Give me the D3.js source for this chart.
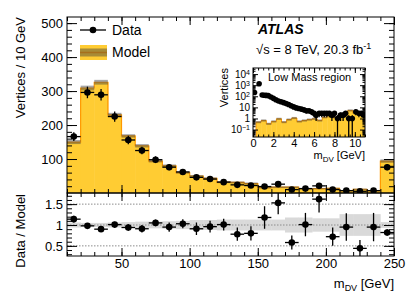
<!DOCTYPE html>
<html lang="en">
<head>
<meta charset="utf-8">
<title>Vertices vs m_DV</title>
<script src="https://cdn.jsdelivr.net/npm/d3@7"></script>
<style>
    body { margin: 0; background: #fff; }
    svg { font-family: "Liberation Sans", Arial, sans-serif; }
    .frame { fill: none; stroke: #000; stroke-width: 1; }
    .axis path { display: none; }
    .axis line { stroke: #000; stroke-width: 1; }
    .axis text { font-size: 13px; fill: #000; font-family: "Liberation Sans", Arial, sans-serif; }
    .inset .axis text { font-size: 11px; }
    .inset .logaxis text { font-size: 10px; }
    .err { stroke: #000; stroke-width: 1.3; }
</style>
</head>
<body>
<svg id="chart" width="415" height="298"></svg>
<script>
    // 10 GeV bins (lower edges)
    var binLow = [10, 20, 30, 40, 50, 60, 70, 80, 90, 100, 110, 120,
                  130, 140, 150, 160, 170, 180, 190, 200, 210, 220, 230, 240];
    var dataCounts = [166, 296, 289, 225, 156, 125, 98, 76, 62, 46, 41, 32,
                      24, 22, 19, 26, 10, 13, 21, 10, 7, 5, 7, 76];
    var dataErr = [13, 17, 17, 15, 12.5, 11, 10, 9, 8, 7, 6.4, 5.7,
                   4.9, 4.7, 4.4, 5.1, 3.2, 3.6, 4.6, 3.2, 2.6, 2.2, 2.6, 8.7];
    var modelCounts = [150, 309, 326, 230, 168, 139, 94, 80, 60, 50, 43, 32,
                       31, 28, 16, 17, 17, 12.5, 13, 13.5, 7, 11, 7, 94];
    var modelErr = [6, 7, 7, 6, 5, 5, 4, 4, 3, 3, 3, 3,
                    3, 3, 2.5, 2.5, 2.5, 2, 2, 2, 2, 2, 2, 5];
    var ratioVals = [1.14, 0.98, 0.90, 1.01, 0.94, 0.91, 1.05, 0.95, 1.03, 0.91, 0.96, 1.01,
                     0.78, 0.80, 1.18, 1.53, 0.58, 1.01, 1.62, 0.72, 0.95, 0.44, 0.95, 0.82];
    var ratioErr = [0.08, 0.06, 0.06, 0.07, 0.08, 0.09, 0.08, 0.11, 0.11, 0.15, 0.14, 0.14,
                    0.16, 0.17, 0.27, 0.27, 0.17, 0.28, 0.32, 0.22, 0.33, 0.2, 0.34, 0.08];
    var ratioBand = [0.06, 0.05, 0.05, 0.06, 0.07, 0.08, 0.08, 0.09, 0.1, 0.12, 0.12, 0.13,
                     0.13, 0.13, 0.13, 0.13, 0.18, 0.18, 0.16, 0.16, 0.26, 0.26, 0.26, 0.07];

    // low mass inset
    var insetMass = [0.15, 0.6, 0.9, 1.1, 1.3, 1.5, 1.75, 2.0, 2.25, 2.5, 2.75, 3.0, 3.25, 3.5,
                     3.75, 4.0, 4.25, 4.5, 4.75, 5.0, 5.25, 5.5, 5.75, 6.0, 6.2, 6.5, 6.75, 7.0,
                     7.25, 7.5, 7.75, 8.0, 8.3, 8.6, 8.85, 9.1, 9.4, 9.75, 10.1, 10.4, 10.65, 10.9];
    var insetCounts = [220, 1350, 130, 125, 120, 115, 85, 65, 48, 38, 32, 27, 22, 18,
                       14, 11, 9, 8, 7, 6, 5, 5, 4, 3, 2, 3, 3, 3,
                       3, 3, 2, 3, 1, 2, 2, 3, 1, 1, 4, 3, 3, 2];
    var insetModelLow = [0.3, 0.8, 1.3, 1.8, 2.3, 2.8, 3.3, 3.8, 4.3, 4.8, 5.3,
                         5.8, 6.3, 6.8, 7.3, 7.8, 8.3, 8.8, 9.3, 9.8, 10.3, 10.8];
    var insetModel = [0.47, 0.66, 0.33, 0.54, 0.93, 0.47, 0.8, 1.1, 0.54, 0.66, 0.8,
                      0.93, 0.66, 1.3, 1.9, 1.3, 1.9, 2.2, 5.3, 3.3, 2.2, 3.6];

    var xTicks = [50, 100, 150, 200, 250];
    var yTicks = [100, 200, 300, 400, 500];
    var ratioTicks = [0.5, 1, 1.5];
    var insetXTicks = [0, 2, 4, 6, 8, 10];
    var insetYTicks = [0.1, 1, 10, 100, 1000, 10000];

    var yellow = "#ffcc33", orange = "#ff9900", band = "rgba(60,60,60,0.45)";

    var svg = d3.select("#chart");

    var L = 67, R = 394, T = 17, M = 193, B = 256;
    var x = d3.scaleLinear().domain([10, 250]).range([L, R]);
    var y = d3.scaleLinear().domain([0, 518]).range([M, T]);
    var yr = d3.scaleLinear().domain([0.257, 1.767]).range([B, M]);

    var bins = binLow.map(function (lo, i) {
        return {lo: lo, hi: lo + 10, data: dataCounts[i], derr: dataErr[i],
                model: modelCounts[i], merr: modelErr[i],
                ratio: ratioVals[i], rerr: ratioErr[i], band: ratioBand[i]};
    });

    svg.append("clipPath").attr("id", "clipMain")
        .append("rect").attr("x", L).attr("y", T).attr("width", R - L).attr("height", M - T);
    svg.append("clipPath").attr("id", "clipRatio")
        .append("rect").attr("x", L).attr("y", M).attr("width", R - L).attr("height", B - M);

    // ---- main panel ----
    var main = svg.append("g").attr("clip-path", "url(#clipMain)");

    main.selectAll(".mfill").data(bins).enter().append("rect")
        .attr("x", function (d) { return x(d.lo); })
        .attr("width", function (d) { return x(d.hi) - x(d.lo) + 0.5; })
        .attr("y", function (d) { return y(d.model); })
        .attr("height", function (d) { return y(0) - y(d.model); })
        .attr("fill", yellow);

    var stepPts = bins.map(function (d) { return [d.lo, d.model]; });
    stepPts.push([250, modelCounts[modelCounts.length - 1]]);
    var stepLine = d3.line()
        .x(function (d) { return x(d[0]); })
        .y(function (d) { return y(d[1]); })
        .curve(d3.curveStepAfter);
    main.append("path").datum(stepPts)
        .attr("d", stepLine)
        .attr("fill", "none").attr("stroke", orange).attr("stroke-width", 1.2);

    main.selectAll(".mband").data(bins).enter().append("rect")
        .attr("x", function (d) { return x(d.lo); })
        .attr("width", function (d) { return x(d.hi) - x(d.lo); })
        .attr("y", function (d) { return y(d.model + d.merr); })
        .attr("height", function (d) { return y(d.model - d.merr) - y(d.model + d.merr); })
        .attr("fill", band);

    var pts = main.selectAll(".pt").data(bins).enter().append("g");
    pts.append("line").attr("class", "err")
        .attr("x1", function (d) { return x(d.lo); })
        .attr("x2", function (d) { return x(d.hi); })
        .attr("y1", function (d) { return y(d.data); })
        .attr("y2", function (d) { return y(d.data); });
    pts.append("line").attr("class", "err")
        .attr("x1", function (d) { return x(d.lo + 5); })
        .attr("x2", function (d) { return x(d.lo + 5); })
        .attr("y1", function (d) { return y(d.data - d.derr); })
        .attr("y2", function (d) { return y(d.data + d.derr); });
    pts.append("circle")
        .attr("cx", function (d) { return x(d.lo + 5); })
        .attr("cy", function (d) { return y(d.data); })
        .attr("r", 3.3).attr("fill", "#000");

    // ---- ratio panel ----
    var rat = svg.append("g").attr("clip-path", "url(#clipRatio)");
    rat.selectAll(".rband").data(bins).enter().append("rect")
        .attr("x", function (d) { return x(d.lo); })
        .attr("width", function (d) { return x(d.hi) - x(d.lo) + 0.3; })
        .attr("y", function (d) { return yr(1 + d.band); })
        .attr("height", function (d) { return yr(1 - d.band) - yr(1 + d.band); })
        .attr("fill", "#d9d9d9");

    rat.selectAll(".grid").data(ratioTicks).enter().append("line")
        .attr("x1", L).attr("x2", R)
        .attr("y1", function (d) { return yr(d); })
        .attr("y2", function (d) { return yr(d); })
        .attr("stroke", "#8c8c8c").attr("stroke-width", 1)
        .attr("stroke-dasharray", "1.5,1.5");

    var rpts = rat.selectAll(".rpt").data(bins).enter().append("g");
    rpts.append("line").attr("class", "err")
        .attr("x1", function (d) { return x(d.lo); })
        .attr("x2", function (d) { return x(d.hi); })
        .attr("y1", function (d) { return yr(d.ratio); })
        .attr("y2", function (d) { return yr(d.ratio); });
    rpts.append("line").attr("class", "err")
        .attr("x1", function (d) { return x(d.lo + 5); })
        .attr("x2", function (d) { return x(d.lo + 5); })
        .attr("y1", function (d) { return yr(d.ratio - d.rerr); })
        .attr("y2", function (d) { return yr(d.ratio + d.rerr); });
    rpts.append("circle")
        .attr("cx", function (d) { return x(d.lo + 5); })
        .attr("cy", function (d) { return yr(d.ratio); })
        .attr("r", 3.3).attr("fill", "#000");

    // ---- axes (ticks inside, ROOT style) ----
    function addAxis(axis, tx, ty) {
        return svg.append("g").attr("class", "axis")
            .attr("transform", "translate(" + tx + "," + ty + ")")
            .call(axis);
    }
    var yMinor = d3.range(20, 518, 20);
    addAxis(d3.axisLeft(y).tickValues(yMinor).tickSize(-5).tickFormat(""), L, 0);
    addAxis(d3.axisLeft(y).tickValues(yTicks).tickSize(-10).tickPadding(4), L, 0);
    addAxis(d3.axisRight(y).tickValues(yMinor).tickSize(-5).tickFormat(""), R, 0);
    addAxis(d3.axisRight(y).tickValues(yTicks).tickSize(-10).tickFormat(""), R, 0);

    var xMinor = d3.range(10, 251, 10);
    addAxis(d3.axisBottom(x).tickValues(xMinor).tickSize(-4).tickFormat(""), 0, M);
    addAxis(d3.axisBottom(x).tickValues(xTicks).tickSize(-8).tickFormat(""), 0, M);
    addAxis(d3.axisTop(x).tickValues(xMinor).tickSize(-4).tickFormat(""), 0, T);
    addAxis(d3.axisTop(x).tickValues(xTicks).tickSize(-8).tickFormat(""), 0, T);

    var rMinor = d3.range(0.3, 1.75, 0.1);
    addAxis(d3.axisLeft(yr).tickValues(rMinor).tickSize(-5).tickFormat(""), L, 0);
    addAxis(d3.axisLeft(yr).tickValues(ratioTicks).tickSize(-10).tickPadding(4)
        .tickFormat(function (d) { return d === 1 ? "1" : d; }), L, 0);
    addAxis(d3.axisRight(yr).tickValues(rMinor).tickSize(-5).tickFormat(""), R, 0);
    addAxis(d3.axisRight(yr).tickValues(ratioTicks).tickSize(-10).tickFormat(""), R, 0);
    addAxis(d3.axisBottom(x).tickValues(xMinor).tickSize(-4).tickFormat(""), 0, B);
    addAxis(d3.axisBottom(x).tickValues(xTicks).tickSize(-8).tickPadding(3), 0, B);
    addAxis(d3.axisTop(x).tickValues(xMinor).tickSize(-4).tickFormat(""), 0, M);
    addAxis(d3.axisTop(x).tickValues(xTicks).tickSize(-8).tickFormat(""), 0, M);

    svg.append("rect").attr("class", "frame")
        .attr("x", L).attr("y", T).attr("width", R - L).attr("height", M - T);
    svg.append("rect").attr("class", "frame")
        .attr("x", L).attr("y", M).attr("width", R - L).attr("height", B - M);

    // axis titles
    svg.append("text")
        .attr("transform", "translate(25," + T + ") rotate(-90)")
        .attr("text-anchor", "end").attr("font-size", 13)
        .text("Vertices / 10 GeV");
    svg.append("text")
        .attr("transform", "translate(25," + (M + 1) + ") rotate(-90)")
        .attr("text-anchor", "end").attr("font-size", 13)
        .text("Data / Model");
    var xt = svg.append("text").attr("x", R).attr("y", 288)
        .attr("text-anchor", "end").attr("font-size", 13);
    xt.append("tspan").text("m");
    xt.append("tspan").attr("font-size", 9).attr("dy", 3).text("DV");
    xt.append("tspan").attr("dy", -3).text(" [GeV]");

    // legend
    var leg = svg.append("g");
    leg.append("line").attr("class", "err").attr("x1", 80).attr("x2", 106).attr("y1", 30).attr("y2", 30);
    leg.append("circle").attr("cx", 93).attr("cy", 30).attr("r", 3.3).attr("fill", "#000");
    leg.append("text").attr("x", 112).attr("y", 35).attr("font-size", 14).text("Data");
    leg.append("rect").attr("x", 80).attr("y", 45).attr("width", 27).attr("height", 15).attr("fill", yellow);
    leg.append("line").attr("x1", 80).attr("x2", 107).attr("y1", 52.5).attr("y2", 52.5)
        .attr("stroke", orange).attr("stroke-width", 1.5);
    leg.append("rect").attr("x", 80).attr("y", 48.5).attr("width", 27).attr("height", 8).attr("fill", band);
    leg.append("text").attr("x", 112).attr("y", 57).attr("font-size", 14).text("Model");

    // ATLAS label
    svg.append("text").attr("x", 258).attr("y", 34)
        .attr("font-size", 14).attr("font-weight", "bold").attr("font-style", "italic")
        .text("ATLAS");
    var lumi = svg.append("text").attr("x", 256).attr("y", 54).attr("font-size", 13);
    lumi.append("tspan").text("\u221as = 8 TeV, 20.3 fb");
    lumi.append("tspan").attr("font-size", 9).attr("dy", -5).text("-1");

    // ---- inset ----
    var iL = 253, iR = 365, iT = 68, iB = 137;
    var xi = d3.scaleLinear().domain([0, 11]).range([iL, iR]);
    var yi = d3.scaleLog().domain([Math.pow(10, -1.67), Math.pow(10, 4.55)]).range([iB, iT]);

    var inset = svg.append("g").attr("class", "inset");
    inset.append("rect").attr("x", iL).attr("y", iT).attr("width", iR - iL).attr("height", iB - iT)
        .attr("fill", "#fff");
    svg.append("clipPath").attr("id", "clipInset")
        .append("rect").attr("x", iL).attr("y", iT).attr("width", iR - iL).attr("height", iB - iT);
    var ip = inset.append("g").attr("clip-path", "url(#clipInset)");

    var ibins = insetModelLow.map(function (lo, i) {
        return {lo: lo, hi: lo + 0.5, model: insetModel[i]};
    });
    ip.selectAll(".ifill").data(ibins).enter().append("rect")
        .attr("x", function (d) { return xi(d.lo); })
        .attr("width", function (d) { return xi(d.hi) - xi(d.lo) + 0.4; })
        .attr("y", function (d) { return yi(d.model); })
        .attr("height", function (d) { return iB - yi(d.model); })
        .attr("fill", yellow);
    var istep = ibins.map(function (d) { return [d.lo, d.model]; });
    istep.unshift([0.3, yi.domain()[0]]);
    istep.push([11.3, insetModel[insetModel.length - 1]]);
    ip.append("path").datum(istep)
        .attr("d", d3.line()
            .x(function (d) { return xi(d[0]); })
            .y(function (d) { return yi(d[1]); })
            .curve(d3.curveStepAfter))
        .attr("fill", "none").attr("stroke", orange).attr("stroke-width", 1);
    ip.selectAll(".iband").data(ibins).enter().append("rect")
        .attr("x", function (d) { return xi(d.lo); })
        .attr("width", function (d) { return xi(d.hi) - xi(d.lo); })
        .attr("y", function (d) { return yi(d.model * 1.25); })
        .attr("height", function (d) { return yi(d.model / 1.25) - yi(d.model * 1.25); })
        .attr("fill", band);

    var ipts = ip.selectAll(".ipt").data(insetMass.map(function (m, i) {
        return {m: m, n: insetCounts[i]};
    })).enter().append("g");
    ipts.append("line").attr("class", "err").attr("stroke-width", 1.2)
        .attr("x1", function (d) { return xi(d.m); })
        .attr("x2", function (d) { return xi(d.m); })
        .attr("y1", function (d) {
            var lo = d.n - Math.sqrt(d.n);
            return lo > 0.001 ? yi(lo) : iB;
        })
        .attr("y2", function (d) { return yi(d.n + Math.sqrt(d.n)); });
    ipts.append("line").attr("class", "err").attr("stroke-width", 1.2)
        .attr("x1", function (d) { return xi(d.m - 0.125); })
        .attr("x2", function (d) { return xi(d.m + 0.125); })
        .attr("y1", function (d) { return yi(d.n); })
        .attr("y2", function (d) { return yi(d.n); });
    ipts.append("circle")
        .attr("cx", function (d) { return xi(d.m); })
        .attr("cy", function (d) { return yi(d.n); })
        .attr("r", 2.8).attr("fill", "#000");

    function addInsetAxis(axis, tx, ty) {
        return inset.append("g").attr("class", "axis")
            .attr("transform", "translate(" + tx + "," + ty + ")")
            .call(axis);
    }
    var ixMinor = d3.range(0, 11.01, 0.5);
    addInsetAxis(d3.axisBottom(xi).tickValues(ixMinor).tickSize(-2.5).tickFormat(""), 0, iB);
    addInsetAxis(d3.axisBottom(xi).tickValues(insetXTicks).tickSize(-5).tickPadding(2), 0, iB);
    addInsetAxis(d3.axisTop(xi).tickValues(ixMinor).tickSize(-2.5).tickFormat(""), 0, iT);
    addInsetAxis(d3.axisTop(xi).tickValues(insetXTicks).tickSize(-5).tickFormat(""), 0, iT);

    var iyMinor = [];
    [-2, -1, 0, 1, 2, 3, 4].forEach(function (e) {
        for (var k = 2; k <= 9; k++) {
            var v = k * Math.pow(10, e);
            if (v > yi.domain()[0] && v < yi.domain()[1]) iyMinor.push(v);
        }
    });
    addInsetAxis(d3.axisLeft(yi).tickValues(iyMinor).tickSize(-2.5).tickFormat(""), iL, 0);
    addInsetAxis(d3.axisRight(yi).tickValues(iyMinor).tickSize(-2.5).tickFormat(""), iR, 0);
    addInsetAxis(d3.axisRight(yi).tickValues(insetYTicks).tickSize(-5).tickFormat(""), iR, 0);
    var iyAx = addInsetAxis(d3.axisLeft(yi).tickValues(insetYTicks).tickSize(-5).tickPadding(3)
        .tickFormat(function (d) { return d; }), iL, 0);
    iyAx.classed("logaxis", true);
    iyAx.selectAll("text").each(function (d) {
        if (d === 1 || d === 10) return;
        var t = d3.select(this).text("10");
        t.append("tspan").attr("font-size", 7).attr("dy", "-0.45em")
            .text(Math.round(Math.log10(d)) < 0 ? "\u22121" : Math.round(Math.log10(d)));
    });

    inset.append("rect").attr("class", "frame")
        .attr("x", iL).attr("y", iT).attr("width", iR - iL).attr("height", iB - iT);

    inset.append("text").attr("x", 268).attr("y", 81).attr("font-size", 11).text("Low Mass region");
    inset.append("text")
        .attr("transform", "translate(228," + iT + ") rotate(-90)")
        .attr("text-anchor", "end").attr("font-size", 11)
        .text("Vertices");
    var ixt = inset.append("text").attr("x", iR).attr("y", 159)
        .attr("text-anchor", "end").attr("font-size", 11);
    ixt.append("tspan").text("m");
    ixt.append("tspan").attr("font-size", 8).attr("dy", 2.5).text("DV");
    ixt.append("tspan").attr("dy", -2.5).text(" [GeV]");
</script>
</body>
</html>
